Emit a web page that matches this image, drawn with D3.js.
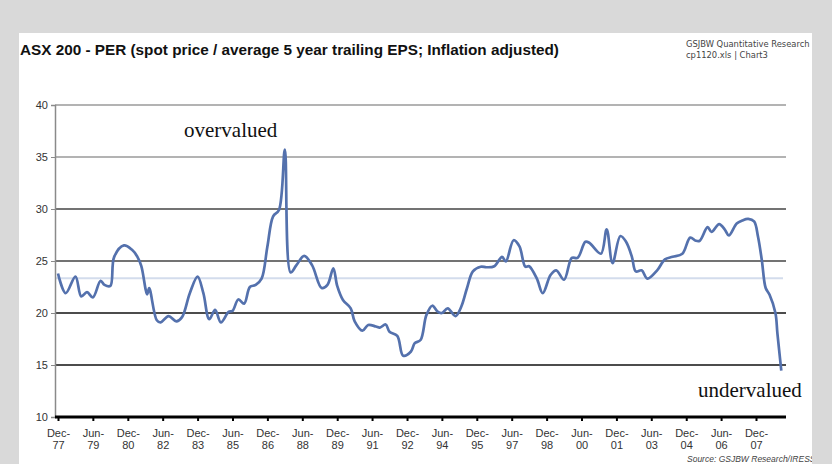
<!DOCTYPE html>
<html>
<head>
<meta charset="utf-8">
<script src="https://cdn.jsdelivr.net/npm/d3@7"></script>
<style>
  body { margin: 0; background: #d9d9d9; }
  svg { display: block; }
</style>
</head>
<body>
<svg id="chart" width="832" height="464"></svg>
<script>
var months = [
  "1977-12","1978-04","1978-09","1978-12","1979-03","1979-06","1979-10","1979-12",
  "1980-03","1980-05","1980-10","1981-02","1981-05","1981-07","1981-10","1981-11",
  "1982-03","1982-05","1982-09","1983-01","1983-04","1983-08","1983-12","1984-03",
  "1984-06","1984-09","1984-12","1985-04","1985-06","1985-09","1985-12","1986-03",
  "1986-06","1986-09","1986-12","1987-03","1987-06","1987-09","1987-12","1988-03",
  "1988-07","1988-11","1989-04","1989-07","1989-10","1989-12","1990-03","1990-07",
  "1990-09","1991-01","1991-04","1991-08","1991-10","1992-01","1992-03","1992-07",
  "1992-10","1993-02","1993-04","1993-07","1993-10","1994-01","1994-04","1994-06",
  "1994-09","1995-01","1995-04","1995-07","1995-10","1996-02","1996-05","1996-09",
  "1997-01","1997-03","1997-07","1997-10","1998-01","1998-03","1998-07","1998-10",
  "1999-02","1999-05","1999-09","2000-01","2000-04","2000-08","2000-10","2001-04",
  "2001-07","2001-10","2002-02","2002-05","2002-08","2002-10","2003-01","2003-04",
  "2003-09","2004-01","2004-05","2004-10","2005-02","2005-05","2005-07","2005-11",
  "2006-01","2006-05","2006-08","2006-10","2007-02","2007-05","2007-08","2007-11",
  "2008-01","2008-03","2008-05","2008-07","2008-10","2008-11","2009-01"
];
var per = [
  23.8, 21.9, 23.5, 21.6, 22.0, 21.5, 23.1, 22.7,
  22.6, 25.4, 26.5, 26.1, 25.4, 24.5, 21.8, 22.4,
  19.3, 19.1, 19.7, 19.2, 19.6, 21.9, 23.5, 21.9,
  19.4, 20.3, 19.1, 20.1, 20.2, 21.3, 20.9, 22.5,
  22.7, 23.3, 26.4, 29.3, 29.9, 35.7, 23.9, 24.6,
  25.5, 24.6, 22.4, 22.7, 24.3, 22.6, 21.25, 20.45,
  19.2, 18.3, 18.85, 18.7, 18.6, 18.9, 18.2, 17.8,
  15.9, 16.3, 17.1, 17.4, 19.8, 20.7, 20.1, 20.0,
  20.45, 19.7, 20.6, 22.4, 24.0, 24.45, 24.4, 24.5,
  25.4, 24.95, 27.0, 26.4, 24.45, 24.5, 23.3, 21.9,
  23.65, 24.1, 23.2, 25.3, 25.3, 26.85, 26.75, 25.7,
  28.05, 24.8, 27.4, 26.85, 25.4, 24.0, 24.1, 23.3,
  24.1, 25.15, 25.4, 25.7, 27.25, 26.95, 26.95, 28.25,
  27.8, 28.55, 28.0, 27.45, 28.6, 28.9, 29.05, 28.8,
  27.35, 25.1, 22.4, 21.75, 20.0, 18.05, 14.45
];
var averagePer = 23.35;
var yTicks = [10, 15, 20, 25, 30, 35, 40];
var xTickMonths = ["1977-12","1979-06","1980-12","1982-06","1983-12","1985-06","1986-12",
  "1988-06","1989-12","1991-06","1992-12","1994-06","1995-12","1997-06","1998-12",
  "2000-06","2001-12","2003-06","2004-12","2006-06","2007-12"];

var titleText = "ASX 200 - PER (spot price / average 5 year trailing EPS; Inflation adjusted)";
var stampLines = ["GSJBW Quantitative Research", "cp1120.xls | Chart3"];
var sourceText = "Source: GSJBW Research/IRESS";

var parseMonth = d3.timeParse("%Y-%m");
var data = months.map(function (m, i) { return { date: parseMonth(m), value: per[i] }; });

var svg = d3.select("#chart");

// white panel
svg.append("rect").attr("x", 19).attr("y", 33).attr("width", 793).attr("height", 431).attr("fill", "#fff");

var panel = svg.append("g");
var plotLeft = 55, plotRight = 786, plotTop = 105, plotBottom = 417;

var x = d3.scaleTime()
  .domain([parseMonth("1977-12"), parseMonth("2007-12")])
  .range([58, 756]);
var y = d3.scaleLinear().domain([10, 40]).range([plotBottom, plotTop]);

// title + stamp
panel.append("text")
  .attr("x", 20).attr("y", 55)
  .style("font-family", "'Liberation Sans', Arial, sans-serif")
  .style("font-size", "15.3px").style("font-weight", "bold")
  .attr("fill", "#111")
  .text(titleText);

panel.selectAll("text.stamp").data(stampLines).enter()
  .append("text").attr("class", "stamp")
  .attr("x", 686).attr("y", function (d, i) { return 47 + i * 11; })
  .style("font-family", "'DejaVu Sans Condensed', 'DejaVu Sans', sans-serif")
  .style("font-size", "9.3px")
  .attr("fill", "#444")
  .text(function (d) { return d; });

// gridlines (darker towards the bottom, like the original)
function gridColor(v) {
  if (v >= 35) return "#9a9a9a";
  if (v >= 25) return "#444";
  return "#111";
}
panel.selectAll("line.grid").data(yTicks.filter(function (v) { return v > 10; })).enter()
  .append("line").attr("class", "grid")
  .attr("x1", plotLeft).attr("x2", plotRight)
  .attr("y1", function (d) { return y(d); }).attr("y2", function (d) { return y(d); })
  .attr("stroke", gridColor)
  .attr("stroke-width", 1.5);

// long-run average
panel.append("line")
  .attr("x1", plotLeft).attr("x2", 783)
  .attr("y1", y(averagePer)).attr("y2", y(averagePer))
  .attr("stroke", "#d3dcec").attr("stroke-width", 2);

// y axis
var yAxis = d3.axisLeft(y).tickValues(yTicks).tickSize(4).tickPadding(3);
var gy = panel.append("g").attr("transform", "translate(" + plotLeft + ",0)").call(yAxis);
gy.select(".domain").attr("stroke", "#8a8a8a").attr("stroke-width", 1.5);
gy.selectAll(".tick line").attr("stroke", "#8a8a8a");
gy.selectAll(".tick text")
  .style("font-family", "'Liberation Sans', Arial, sans-serif")
  .style("font-size", "11px").attr("fill", "#333");

// x axis
var xAxis = d3.axisBottom(x).tickValues(xTickMonths.map(parseMonth)).tickSize(4).tickFormat("");
var gx = panel.append("g").attr("transform", "translate(0," + plotBottom + ")").call(xAxis);
gx.select(".domain").remove();
gx.selectAll(".tick line").attr("stroke", "#000").attr("stroke-width", 2);
var fmtMon = d3.timeFormat("%b-"), fmtYr = d3.timeFormat("%y");
gx.selectAll(".tick").each(function (d) {
  var t = d3.select(this).append("text")
    .attr("text-anchor", "middle")
    .attr("fill", "#333")
    .style("font-family", "'Liberation Sans', Arial, sans-serif")
    .style("font-size", "11px");
  t.append("tspan").attr("x", 0).attr("y", 20).text(fmtMon(d));
  t.append("tspan").attr("x", 0).attr("y", 32).text(fmtYr(d));
});
panel.append("line")
  .attr("x1", plotLeft).attr("x2", plotRight)
  .attr("y1", plotBottom).attr("y2", plotBottom)
  .attr("stroke", "#000").attr("stroke-width", 3);

// PER line
var line = d3.line()
  .curve(d3.curveCatmullRom.alpha(0.5))
  .x(function (d) { return x(d.date); })
  .y(function (d) { return y(d.value); });
panel.append("path")
  .datum(data)
  .attr("d", line)
  .attr("fill", "none")
  .attr("stroke", "#5471ad")
  .attr("stroke-width", 2.7);

// annotations
var serif = "'Liberation Serif', 'Times New Roman', serif";
panel.append("text").attr("x", 184).attr("y", 137)
  .style("font-family", serif).style("font-size", "21px").attr("fill", "#111")
  .text("overvalued");
panel.append("text").attr("x", 698).attr("y", 397)
  .style("font-family", serif).style("font-size", "21px").attr("fill", "#111")
  .text("undervalued");

panel.append("text").attr("x", 687).attr("y", 462)
  .style("font-family", "'Liberation Sans', Arial, sans-serif")
  .style("font-size", "8.5px").style("font-style", "italic")
  .attr("fill", "#444")
  .text(sourceText);

// grey page margins on top of everything
svg.append("rect").attr("x", 812).attr("y", 0).attr("width", 20).attr("height", 464).attr("fill", "#d9d9d9");
svg.append("rect").attr("x", 0).attr("y", 0).attr("width", 832).attr("height", 33).attr("fill", "#d9d9d9");
svg.append("rect").attr("x", 0).attr("y", 0).attr("width", 19).attr("height", 464).attr("fill", "#d9d9d9");
</script>
</body>
</html>
